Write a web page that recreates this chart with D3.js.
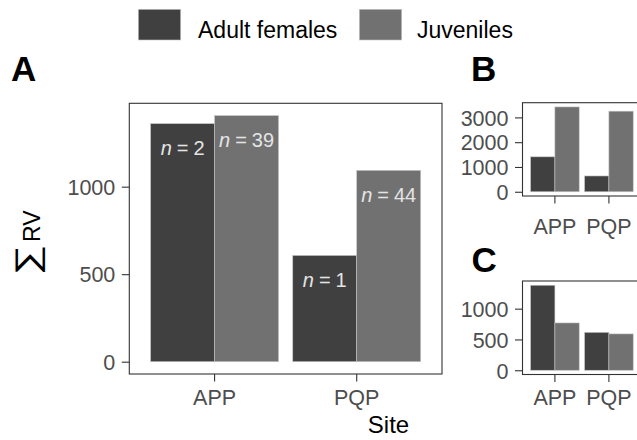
<!DOCTYPE html>
<html><head><meta charset="utf-8">
<script src="https://cdn.jsdelivr.net/npm/d3@7"></script>
<style>
body{margin:0;background:#fff;}
text{font-family:"Liberation Sans",Arial,sans-serif;}
</style></head>
<body><svg id="c" width="637" height="440"></svg>
<script>
// ---- data ----
const sites = ["APP", "PQP"];
const groups = ["Adult females", "Juveniles"];
const aAdult = [1360, 607];
const aJuv = [1406, 1093];
const bAdult = [1409, 637];
const bJuv = [3422, 3251];
const cAdult = [1380, 615];
const cJuv = [768, 590];
const nAdult = [2, 1];
const nJuv = [39, 44];
const ticksA = [0, 500, 1000];
const ticksB = [0, 1000, 2000, 3000];
const ticksC = [0, 500, 1000];
const colors = ["#404040", "#717171"];

const svg = d3.select("#c");
const color = d3.scaleOrdinal().domain(groups).range(colors);

function panel(o) {
  const g = svg.append("g");
  const x = d3.scaleBand().domain(sites).range([o.left, o.right])
    .paddingInner(0.1).paddingOuter(0.15).align(0.5);
  const xs = d3.scaleBand().domain(groups).range([0, x.bandwidth()]);
  const mx = d3.max(o.adult.concat(o.juv));
  const y = d3.scaleLinear().domain([-0.05 * mx, 1.05 * mx]).range([o.bottom, o.top]);
  const rows = [];
  sites.forEach((s, i) => {
    rows.push({site: s, grp: groups[0], v: o.adult[i], n: o.nA ? o.nA[i] : null});
    rows.push({site: s, grp: groups[1], v: o.juv[i], n: o.nJ ? o.nJ[i] : null});
  });
  g.selectAll("rect.bar").data(rows).join("rect").attr("class", "bar")
    .attr("x", d => x(d.site) + xs(d.grp))
    .attr("width", xs.bandwidth())
    .attr("y", d => y(d.v))
    .attr("height", d => y(0) - y(d.v))
    .attr("fill", d => color(d.grp))
    .attr("stroke", "#c4c4c4").attr("stroke-width", 0.6);
  if (o.nA) {
    const t = g.selectAll("text.nl").data(rows).join("text").attr("class", "nl")
      .attr("x", d => x(d.site) + xs(d.grp) + xs.bandwidth() / 2)
      .attr("y", d => y(d.v) + 31.5)
      .attr("text-anchor", "middle").attr("fill", "#e4e4e4")
      .attr("font-size", 20);
    t.append("tspan").attr("font-style", "italic").text("n");
    t.append("tspan").attr("dx", 5).text("=");
    t.append("tspan").attr("dx", 5).text(d => d.n);
  }
  // border
  g.append("rect").attr("x", o.left).attr("y", o.top)
    .attr("width", o.right - o.left).attr("height", o.bottom - o.top)
    .attr("fill", "none").attr("stroke", "#333").attr("stroke-width", 1.1);
  // axes
  const ya = g.append("g").attr("transform", `translate(${o.left},0)`)
    .call(d3.axisLeft(y).tickValues(o.ticks).tickSize(7.5).tickPadding(6.5).tickFormat(d3.format("d")));
  ya.select(".domain").remove();
  ya.selectAll("line").attr("stroke", "#333").attr("stroke-width", 1.1);
  ya.selectAll("text").attr("fill", "#4d4d4d").attr("font-size", 21.5)
    .attr("font-family", "Liberation Sans, Arial, sans-serif").attr("dy", "0.36em");
  const xa = g.append("g").attr("transform", `translate(0,${o.bottom})`)
    .call(d3.axisBottom(x).tickSize(7.5).tickPadding(5));
  xa.select(".domain").remove();
  xa.selectAll("line").attr("stroke", "#333").attr("stroke-width", 1.1);
  xa.selectAll("text").attr("fill", "#4d4d4d").attr("font-size", 21.5)
    .attr("font-family", "Liberation Sans, Arial, sans-serif")
    .attr("y", null).attr("dy", null)
    .attr("transform", `translate(0,${o.labelY - o.bottom})`);
  // tag
  svg.append("text").attr("x", o.tagX).attr("y", o.tagY).text(o.tag)
    .attr("font-size", 35).attr("font-weight", "bold").attr("fill", "#000");
}

panel({left: 129.3, right: 442, top: 103.3, bottom: 374, adult: aAdult, juv: aJuv,
  nA: nAdult, nJ: nJuv, ticks: ticksA, labelY: 405, tag: "A", tagX: 11, tagY: 80.5});
panel({left: 522.5, right: 641.3, top: 102.7, bottom: 196, adult: bAdult, juv: bJuv,
  ticks: ticksB, labelY: 234, tag: "B", tagX: 471, tagY: 80.5});
panel({left: 522.5, right: 641.3, top: 281, bottom: 374.5, adult: cAdult, juv: cJuv,
  ticks: ticksC, labelY: 405, tag: "C", tagX: 471.5, tagY: 272});

// axis titles
svg.append("text").attr("x", 388.5).attr("y", 433).attr("text-anchor", "middle")
  .attr("font-size", 24).attr("fill", "#000").text("Site");
const yg = svg.append("g").attr("transform", "translate(40,275) rotate(-90)");
yg.append("text").attr("transform", "translate(0,-2) scale(1.3,1)")
  .attr("font-size", 33).attr("fill", "#000").text("\u2211");
yg.append("text").attr("x", 33).attr("y", 0)
  .attr("font-size", 23).attr("fill", "#000").text("RV");

// legend
const leg = svg.append("g");
const legX = [138.3, 359.3];
const legTX = [198, 417];
groups.forEach((gname, i) => {
  leg.append("rect").attr("x", legX[i]).attr("y", 9.3).attr("width", 42.4).attr("height", 30.7)
    .attr("fill", color(gname)).attr("stroke", "#c4c4c4").attr("stroke-width", 0.6);
  leg.append("text").attr("x", legTX[i]).attr("y", 38.3).attr("font-size", 23)
    .attr("fill", "#000").text(gname);
});
</script></body></html>
